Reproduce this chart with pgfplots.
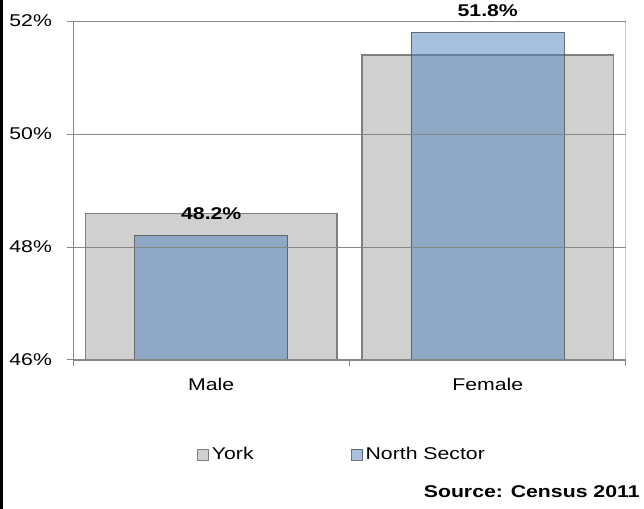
\documentclass[border=0pt]{standalone}
\usepackage{fontspec}
\setmainfont{Liberation Sans}[FakeStretch=1.25]
\usepackage{pgfplots}
\pgfplotsset{compat=1.18}

\definecolor{yorkfill}{RGB}{208,208,208}
\definecolor{yorkdraw}{RGB}{128,128,128}
\definecolor{nsblue}{RGB}{79,129,189}
\definecolor{nsdraw}{RGB}{80,80,80}
\definecolor{gridgray}{RGB}{134,134,134}

\begin{document}
\begin{tikzpicture}[font=\fontsize{8.5}{10}\selectfont]
  % page frame, 1px = 0.5pt
  \path[use as bounding box] (0,0) rectangle (322pt,254.5pt);
  \fill[black] (0,0) rectangle (1.6pt,254.5pt);

  \begin{axis}[
    at={(36.5pt,74.5pt)}, anchor=south west,
    scale only axis,
    width=276.5pt, height=169.5pt,
    xmin=-0.5, xmax=1.5,
    ymin=46, ymax=52,
    axis x line=bottom, axis y line=left,
    axis line style={-, draw=gridgray},
    % boundaries between categories carry the ticks
    xtick={-0.5,0.5,1.5}, xticklabels={},
    extra x ticks={0,1},
    extra x tick labels={Male,Female},
    extra x tick style={major tick length=0pt},
    ytick={46,48,50,52},
    yticklabels={46\%,48\%,50\%,52\%},
    tick align=outside,
    major tick length=3pt,
    tick style={draw=gridgray, line width=0.5pt},
    ymajorgrids,
    major grid style={draw=gridgray, line width=0.5pt},
    axis on top,
    ybar, bar shift=0pt,
    xticklabel style={yshift=-5.5pt},
    yticklabel style={xshift=-4pt},
    legend style={
      draw=none, fill=none,
      at={(0.224,-0.28)}, anchor=west,
      legend columns=2,
      inner sep=0pt,
      nodes={inner sep=1.2pt},
      /tikz/every even column/.append style={column sep=47.5pt},
    },
    legend image code/.code={%
      \draw[#1] (0pt,-2.75pt) rectangle (5.5pt,2.75pt);},
  ]

  % York
  \addplot[fill=yorkfill, draw=yorkdraw, line width=0.6pt, bar width=0.91]
    coordinates {(0,48.6) (1,51.4)};

  % North Sector
  \addplot[fill=nsblue, fill opacity=0.5, draw=nsdraw, draw opacity=0.8,
    line width=0.6pt, bar width=0.553,
    nodes near coords={\pgfmathprintnumber[fixed,precision=1,fixed zerofill,assume math mode=true]{\pgfplotspointmeta}\%},
    nodes near coords style={font=\fontsize{8.5}{10}\selectfont\bfseries,
      text opacity=1, anchor=south, inner sep=0pt, yshift=7.5pt}]
    coordinates {(0,48.2) (1,51.8)};

  \legend{York,North Sector}

  % light right border of the plot area
  \draw[draw=gridgray!45, line width=0.5pt] (rel axis cs:1,0) -- (rel axis cs:1,1);
  \end{axis}

  \node[anchor=east, inner sep=0pt, font=\fontsize{8.5}{10}\selectfont\bfseries] at (320pt,8.5pt) {Source: Census 2011};
\end{tikzpicture}
\end{document}
